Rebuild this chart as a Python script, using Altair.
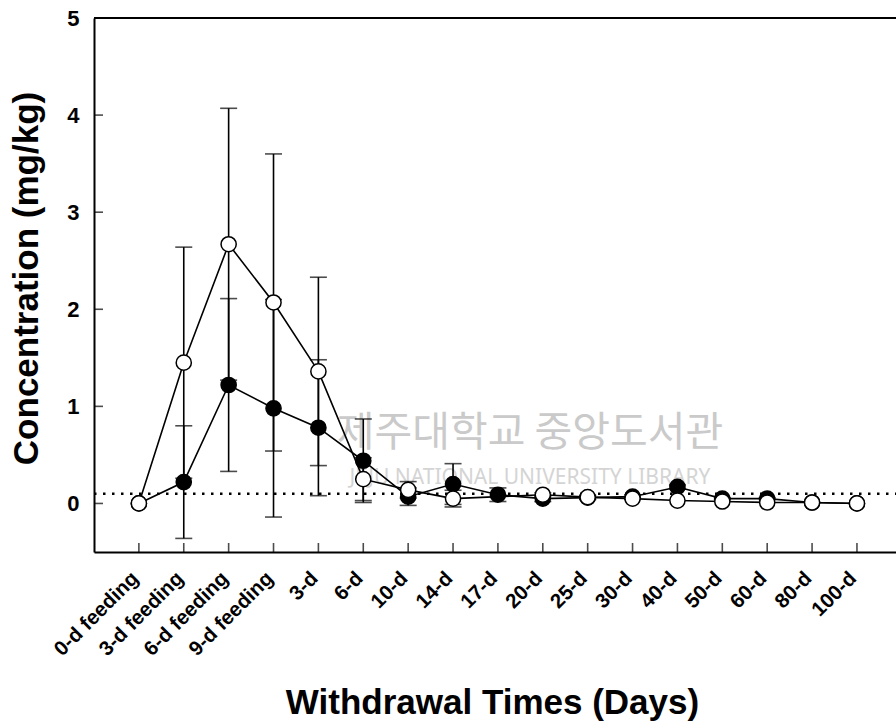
import json
import altair as alt
import pandas as pd

# Sampling points (withdrawal schedule)
categories = ["0-d feeding", "3-d feeding", "6-d feeding", "9-d feeding",
              "3-d", "6-d", "10-d", "14-d", "17-d", "20-d", "25-d",
              "30-d", "40-d", "50-d", "60-d", "80-d", "100-d"]

# Filled-circle series: mean and SD (mg/kg)
filled_mean = [0.0, 0.22, 1.22, 0.98, 0.78, 0.44, 0.07, 0.20, 0.09, 0.05,
               0.06, 0.07, 0.17, 0.05, 0.05, 0.01, 0.0]
filled_sd = [0.0, 0.58, 0.89, 1.12, 0.70, 0.43, 0.09, 0.21, 0.07, 0.03,
             0.02, 0.02, 0.02, 0.01, 0.01, 0.0, 0.0]

# Open-circle series: mean and SD (mg/kg); no value at 17-d
open_mean = [0.0, 1.45, 2.67, 2.07, 1.36, 0.25, 0.14, 0.05, None, 0.09,
             0.065, 0.05, 0.03, 0.02, 0.01, 0.01, 0.0]
open_sd = [0.0, 1.19, 1.40, 1.53, 0.97, 0.22, 0.085, 0.086, None, 0.02,
           0.02, 0.01, 0.0, 0.0, 0.0, 0.0, 0.0]

detection_limit = 0.1
y_ticks = [0, 1, 2, 3, 4, 5]

FONT = "Liberation Sans"
W, H = 802, 534


def series_frame(means, sds):
    rows = []
    for i, (m, s) in enumerate(zip(means, sds)):
        if m is None:
            continue
        rows.append({"idx": i, "val": m, "sd": s, "lo": m - s, "hi": m + s})
    return pd.DataFrame(rows)


filled = series_frame(filled_mean, filled_sd)
opened = series_frame(open_mean, open_sd)

label_expr = json.dumps(categories) + "[datum.value]"

x_scale = alt.Scale(domain=[-1, 16.87], nice=False, zero=False)
y_scale = alt.Scale(domain=[-0.5, 5], nice=False, zero=False)

x_axis = alt.Axis(
    title="Withdrawal Times (Days)", values=list(range(len(categories))),
    labelExpr=label_expr, labelAngle=-45, labelAlign="right",
    labelBaseline="middle", labelFont=FONT, labelFontSize=20.5,
    labelFontWeight="bold", labelColor="black", labelPadding=23,
    labelOffset=-4,
    labelFlush=False, labelOverlap=False, labelBound=False,
    ticks=False, grid=False, domainColor="black", domainWidth=2,
    titleFont=FONT, titleFontSize=35, titleFontWeight="bold",
    titleColor="black", titleX=398, titleY=161, titleBaseline="alphabetic",
    titleAlign="center",
)
y_axis = alt.Axis(
    title="Concentration (mg/kg)", values=y_ticks, format="d",
    labelFont=FONT, labelFontSize=22, labelFontWeight="bold",
    labelColor="black", labelPadding=15, labelFlush=False,
    ticks=False, grid=False, domainColor="black", domainWidth=2,
    titleFont=FONT, titleFontSize=35, titleFontWeight="bold",
    titleColor="black", titleX=-68, titleY=260, titleBaseline="middle",
    titleAngle=-90, titleAlign="center",
)


def X(field="idx"):
    return alt.X(f"{field}:Q", scale=x_scale, axis=x_axis)


def Y(field):
    return alt.Y(f"{field}:Q", scale=y_scale, axis=y_axis)


# Faint library watermark behind the data
wm_ko = alt.Chart(pd.DataFrame({"t": ["제주대학교 중앙도서관"]})).mark_text(
    font="Noto Sans CJK KR", fontSize=41, color="#cacaca", align="center",
    baseline="middle"
).encode(text="t:N", x=alt.value(436), y=alt.value(416))
wm_en = alt.Chart(pd.DataFrame({"t": ["JEJU NATIONAL UNIVERSITY  LIBRARY"]})).mark_text(
    font="Noto Sans", fontSize=21, color="#d4d4d4", align="center",
    baseline="middle"
).encode(text="t:N", x=alt.value(436), y=alt.value(460))

# Dotted reference line at the detection limit
limit = alt.Chart(pd.DataFrame({"v": [detection_limit]})).mark_rule(
    color="black", strokeWidth=2.5, strokeDash=[2.5, 6.5], strokeCap="butt"
).encode(y=Y("v"), x=alt.value(0), x2=alt.value(W))


def error_layers(df):
    d = df[df["sd"] > 0]
    stem = alt.Chart(d).mark_rule(color="black", strokeWidth=1.6).encode(
        x=X(), y=Y("lo"), y2="hi:Q")
    cap_hi = alt.Chart(d).mark_tick(
        color="black", thickness=1.6, size=17, orient="horizontal"
    ).encode(x=X(), y=Y("hi"))
    cap_lo = alt.Chart(d).mark_tick(
        color="black", thickness=1.6, size=17, orient="horizontal"
    ).encode(x=X(), y=Y("lo"))
    return [stem, cap_hi, cap_lo]


line_filled = alt.Chart(filled).mark_line(color="black", strokeWidth=1.6).encode(
    x=X(), y=Y("val"))
line_open = alt.Chart(opened).mark_line(color="black", strokeWidth=1.6).encode(
    x=X(), y=Y("val"))

pts_filled = alt.Chart(filled).mark_point(
    shape="circle", filled=True, fill="black", stroke="black",
    strokeWidth=1.5, size=230, opacity=1
).encode(x=X(), y=Y("val"))
pts_open = alt.Chart(opened).mark_point(
    shape="circle", filled=True, fill="white", stroke="black",
    strokeWidth=1.5, size=230, opacity=1
).encode(x=X(), y=Y("val"))

# Frame top edge and inward-pointing tick marks
top_edge = alt.Chart(pd.DataFrame({"a": [0]})).mark_rule(
    color="black", strokeWidth=2
).encode(x=alt.value(0), x2=alt.value(W), y=alt.value(0))
x_tick_marks = alt.Chart(pd.DataFrame({"idx": list(range(len(categories)))})).mark_tick(
    color="black", thickness=1.6, size=9, orient="vertical"
).encode(x=X(), y=alt.value(H - 4.5))
y_tick_marks = alt.Chart(pd.DataFrame({"v": y_ticks})).mark_tick(
    color="black", thickness=1.6, size=9, orient="horizontal"
).encode(y=Y("v"), x=alt.value(4.5))

chart = alt.layer(
    wm_ko, wm_en, limit,
    *error_layers(filled), line_filled, pts_filled,
    *error_layers(opened), line_open, pts_open,
    top_edge, x_tick_marks, y_tick_marks,
).properties(
    width=W, height=H,
    padding={"left": 94, "top": 18, "right": 0, "bottom": 172},
    autosize=alt.AutoSizeParams(type="none"),
    background="white",
).configure_view(stroke=None)

chart.save("out.html", embed_options={"renderer": "svg", "actions": False})
